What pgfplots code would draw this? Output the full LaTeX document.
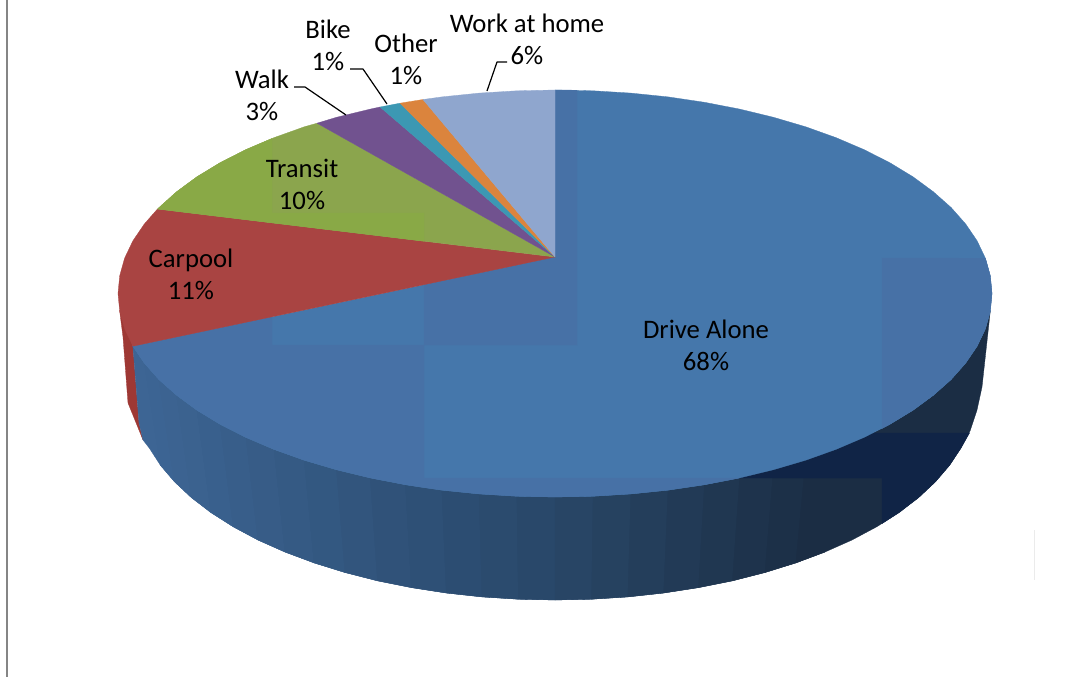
\documentclass[border=0pt]{standalone}
\usepackage{pgfplots}
\pgfplotsset{compat=1.18}
\usepackage{fontspec}
\setmainfont{Carlito}
\definecolor{cDrive}{RGB}{69,119,171}
\definecolor{cDriveD}{RGB}{71,113,166}
\definecolor{cCar}{RGB}{169,68,66}
\definecolor{cTrD}{RGB}{139,165,77}
\definecolor{cTrB}{RGB}{137,169,70}
\definecolor{cWalk}{RGB}{113,82,143}
\definecolor{cBike}{RGB}{60,152,179}
\definecolor{cOther}{RGB}{219,132,61}
\definecolor{cWork}{RGB}{143,166,206}
\definecolor{cNavy}{RGB}{16,36,70}
\definecolor{cRedS}{RGB}{158,56,52}
\definecolor{cSa}{RGB}{61,101,148}
\definecolor{cSb}{RGB}{46,80,118}
\definecolor{cSc}{RGB}{40,70,102}
\definecolor{cSd}{RGB}{27,45,68}
\tikzset{
  poly/.style={draw=#1,line width=0.3pt,fill=#1},
  lead/.style={draw=black,line width=1.2pt,line join=round},
  lab/.style={align=center,text=black,font=\fontsize{26.7}{32}\selectfont,inner sep=0pt}
}
\begin{document}
\begin{tikzpicture}
\path[use as bounding box] (0,0) rectangle (1090pt,677pt);
\begin{axis}[
  anchor=south west,at={(0,0)},
  scale only axis,width=1090pt,height=677pt,
  xmin=0,xmax=1090,ymin=0,ymax=677,y dir=reverse,
  hide axis,clip=true]
% frame line and faint tick
\addplot[draw=black!48,line width=2pt] coordinates {(7,0)(7,677)};
\addplot[draw=black!8,line width=0.8pt] coordinates {(1034,530)(1034,580)};
% red side sliver
\addplot[poly=cRedS] coordinates {(119.7,311.2)(123,337)(128,403)(143,440)(139,423)(132.9,346.2)} --cycle;
% blue side ends
\addplot[poly=cSa] coordinates {(132.9,346.2)(139,423)(143,440)(149.3,448.1)(144.4,363.1)} --cycle;
% blue side strips, each laid over the next
\addplot[poly=cSa] coordinates {(132.9,346.2)(149.3,448.1)(160.3,465.1)(174.4,481.6)(158.9,379.5)(144.4,363.1)} --cycle;
\addplot[poly=cSa!96!cSb] coordinates {(144.4,363.1)(160.3,465.1)(174.4,481.6)(191.3,497.5)(176.6,395.2)(158.9,379.5)} --cycle;
\addplot[poly=cSa!90!cSb] coordinates {(158.9,379.5)(174.4,481.6)(191.3,497.5)(211,512.6)(197,410.2)(176.6,395.2)} --cycle;
\addplot[poly=cSa!84!cSb] coordinates {(176.6,395.2)(191.3,497.5)(211,512.6)(233.3,526.8)(220.2,424.3)(197,410.2)} --cycle;
\addplot[poly=cSa!76!cSb] coordinates {(197,410.2)(211,512.6)(233.3,526.8)(258,540)(246,437.4)(220.2,424.3)} --cycle;
\addplot[poly=cSa!67!cSb] coordinates {(220.2,424.3)(233.3,526.8)(258,540)(285,552)(274.1,449.4)(246,437.4)} --cycle;
\addplot[poly=cSa!58!cSb] coordinates {(246,437.4)(258,540)(285,552)(314.1,562.9)(304.3,460.2)(274.1,449.4)} --cycle;
\addplot[poly=cSa!47!cSb] coordinates {(274.1,449.4)(285,552)(314.1,562.9)(345,572.5)(336.5,469.7)(304.3,460.2)} --cycle;
\addplot[poly=cSa!36!cSb] coordinates {(304.3,460.2)(314.1,562.9)(345,572.5)(377.5,580.8)(370.3,477.9)(336.5,469.7)} --cycle;
\addplot[poly=cSa!24!cSb] coordinates {(336.5,469.7)(345,572.5)(377.5,580.8)(411.4,587.6)(405.5,484.7)(370.3,477.9)} --cycle;
\addplot[poly=cSa!11!cSb] coordinates {(370.3,477.9)(377.5,580.8)(411.4,587.6)(446.3,593)(441.9,490.1)(405.5,484.7)} --cycle;
\addplot[poly=cSb!97!cSc] coordinates {(405.5,484.7)(411.4,587.6)(446.3,593)(482.1,596.9)(479.1,493.9)(441.9,490.1)} --cycle;
\addplot[poly=cSb!72!cSc] coordinates {(441.9,490.1)(446.3,593)(482.1,596.9)(518.4,599.2)(516.9,496.2)(479.1,493.9)} --cycle;
\addplot[poly=cSb!47!cSc] coordinates {(479.1,493.9)(482.1,596.9)(518.4,599.2)(555,600)(555,497)(516.9,496.2)} --cycle;
\addplot[poly=cSb!22!cSc] coordinates {(516.9,496.2)(518.4,599.2)(555,600)(591.6,599.2)(593.1,496.2)(555,497)} --cycle;
\addplot[poly=cSc!98!cSd] coordinates {(555,497)(555,600)(591.6,599.2)(627.9,596.9)(630.9,493.9)(593.1,496.2)} --cycle;
\addplot[poly=cSc!83!cSd] coordinates {(593.1,496.2)(591.6,599.2)(627.9,596.9)(663.7,593)(668.1,490.1)(630.9,493.9)} --cycle;
\addplot[poly=cSc!68!cSd] coordinates {(630.9,493.9)(627.9,596.9)(663.7,593)(698.6,587.6)(704.5,484.7)(668.1,490.1)} --cycle;
\addplot[poly=cSc!53!cSd] coordinates {(668.1,490.1)(663.7,593)(698.6,587.6)(732.5,580.8)(739.7,477.9)(704.5,484.7)} --cycle;
\addplot[poly=cSc!38!cSd] coordinates {(704.5,484.7)(698.6,587.6)(732.5,580.8)(765,572.5)(773.5,469.7)(739.7,477.9)} --cycle;
\addplot[poly=cSc!24!cSd] coordinates {(739.7,477.9)(732.5,580.8)(765,572.5)(795.9,562.9)(805.7,460.2)(773.5,469.7)} --cycle;
\addplot[poly=cSc!11!cSd] coordinates {(773.5,469.7)(765,572.5)(795.9,562.9)(825,552)(835.9,449.4)(805.7,460.2)} --cycle;
\addplot[poly=cSd] coordinates {(805.7,460.2)(795.9,562.9)(825,552)(852,540)(876.7,526.8)(899,512.6)(918.7,497.5)(935.6,481.6)(949.7,465.1)(961,448)(970,431)(977,410)(982,387)(990.3,311.2)(985.4,328.8)(977.1,346.2)(965.6,363.1)(951.1,379.5)(933.4,395.2)(913,410.2)(889.8,424.3)(864,437.4)(835.9,449.4)} --cycle;
% navy block of the side
\addplot[poly=cNavy] coordinates {(739.4,478)(773.5,469.7)(805.7,460.2)(835.9,449.4)(864,437.4)(873,433)(969.5,433)(961,448)(949.7,465.1)(935.6,481.6)(918.7,497.5)(899,512.6)(882,523.6)(882,478)} --cycle;
% top: Drive Alone
\addplot[poly=cDrive] coordinates {(555,257)(555,90)(593.1,90.8)(630.9,93.1)(668.1,96.9)(704.5,102.3)(739.7,109.1)(773.5,117.3)(805.7,126.8)(835.9,137.6)(864,149.6)(889.8,162.7)(913,176.8)(933.4,191.8)(951.1,207.5)(965.6,223.9)(977.1,240.8)(985.4,258.2)(990.3,275.8)(992,293.5)(990.3,311.2)(985.4,328.8)(977.1,346.2)(965.6,363.1)(951.1,379.5)(933.4,395.2)(913,410.2)(889.8,424.3)(864,437.4)(835.9,449.4)(805.7,460.2)(773.5,469.7)(739.7,477.9)(704.5,484.7)(668.1,490.1)(630.9,493.9)(593.1,496.2)(555,497)(516.9,496.2)(479.1,493.9)(441.9,490.1)(405.5,484.7)(370.3,477.9)(336.5,469.7)(304.3,460.2)(274.1,449.4)(246,437.4)(220.2,424.3)(197,410.2)(176.6,395.2)(158.9,379.5)(144.4,363.1)(132.9,346.2)} --cycle;
% tonal blocks of the top
\addplot[poly=cDriveD] coordinates {(555,90)(577,90.2)(577,345)(424,345)(424,284.7)(555,257)} --cycle;
\addplot[poly=cDriveD] coordinates {(132.9,346.2)(272,316.8)(272,345)(424,345)(424,487.6)(405.5,484.7)(370.3,477.9)(336.5,469.7)(304.3,460.2)(274.1,449.4)(246,437.4)(220.2,424.3)(197,410.2)(176.6,395.2)(158.9,379.5)(144.4,363.1)} --cycle;
\addplot[poly=cDriveD] coordinates {(882,258)(985.4,258.2)(990.3,275.8)(992,293.5)(990.3,311.2)(985.4,328.8)(977.1,346.2)(965.6,363.1)(951.1,379.5)(933.4,395.2)(913,410.2)(889.8,424.3)(882,428.5)} --cycle;
\addplot[poly=cDriveD] coordinates {(424,478)(739.4,478)(704.5,484.7)(668.1,490.1)(630.9,493.9)(593.1,496.2)(555,497)(516.9,496.2)(479.1,493.9)(441.9,490.1)(424,487.6)} --cycle;
% Carpool
\addplot[poly=cCar] coordinates {(555,257)(157.5,209)(144.4,223.9)(132.9,240.8)(124.6,258.2)(119.7,275.8)(118,293.5)(119.7,311.2)(124.6,328.8)(132.9,346.2)} --cycle;
% Transit
\addplot[poly=cTrD] coordinates {(555,257)(317,123.2)(304.3,126.8)(274.1,137.6)(246,149.6)(220.2,162.7)(197,176.8)(176.6,191.8)(157.5,209)} --cycle;
\addplot[poly=cTrB] coordinates {(157.5,209)(176.6,191.8)(197,176.8)(220.2,162.7)(246,149.6)(272,138.5)(272,213)(424,213)(424,241.2)} --cycle;
% Walk, Bike, Other, Work at home
\addplot[poly=cWalk] coordinates {(555,257)(380,107)(370.3,109.1)(336.5,117.3)(317,123.2)} --cycle;
\addplot[poly=cBike] coordinates {(555,257)(400,103.2)(380,107)} --cycle;
\addplot[poly=cOther] coordinates {(555,257)(423,99.5)(405.5,102.3)(400,103.2)} --cycle;
\addplot[poly=cWork] coordinates {(555,257)(555,90)(516.9,90.8)(479.1,93.1)(441.9,96.9)(423,99.5)} --cycle;
% leader lines
\addplot[lead] coordinates {(294,87)(305,87)(346,115)};
\addplot[lead] coordinates {(350,69)(363,69)(387,104)};
\addplot[lead] coordinates {(507,62)(497,62)(487,91)};
% labels
\node[lab] at (axis cs:706,345) {Drive Alone\\68\%};
\node[lab] at (axis cs:302,184) {Transit\\10\%};
\node[lab] at (axis cs:191,274) {Carpool\\11\%};
\node[lab] at (axis cs:262,95) {Walk\\3\%};
\node[lab] at (axis cs:328,45) {Bike\\1\%};
\node[lab] at (axis cs:406,59) {Other\\1\%};
\node[lab] at (axis cs:527,39) {Work at home\\6\%};
\end{axis}
\end{tikzpicture}
\end{document}
